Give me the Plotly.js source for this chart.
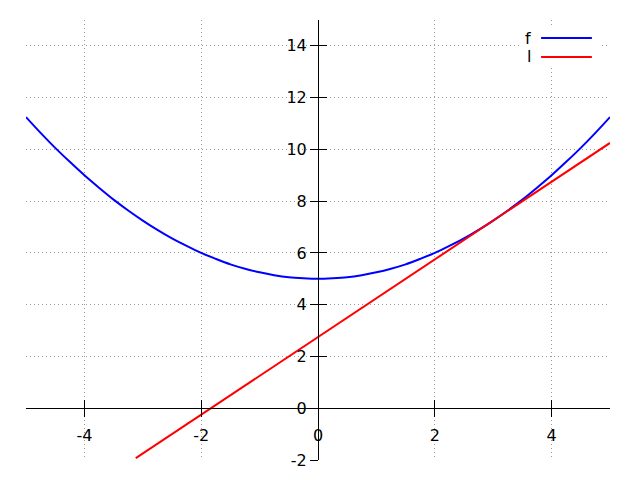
<!DOCTYPE html>
<html>
<head>
<meta charset="utf-8">
<script src="https://cdn.plot.ly/plotly-3.0.1.min.js"></script>
<style>html,body{margin:0;padding:0;background:#fff;}#chart{width:640px;height:480px;}</style>
</head>
<body>
<div id="chart"></div>
<script>
// Curve f sample points
const fX = [-5,-4.75,-4.5,-4.25,-4,-3.75,-3.5,-3.25,-3,-2.75,-2.5,-2.25,-2,-1.75,-1.5,-1.25,-1,-0.75,-0.5,-0.25,0,0.25,0.5,0.75,1,1.25,1.5,1.75,2,2.25,2.5,2.75,3,3.25,3.5,3.75,4,4.25,4.5,4.75,5];
const fY = [11.25,10.64,10.06,9.52,9.0,8.52,8.06,7.64,7.25,6.89,6.56,6.27,6.0,5.77,5.56,5.39,5.25,5.14,5.06,5.02,5.0,5.02,5.06,5.14,5.25,5.39,5.56,5.77,6.0,6.27,6.56,6.89,7.25,7.64,8.06,8.52,9.0,9.52,10.06,10.64,11.25];
// Line l end points
const lX = [-3.12, 5];
const lY = [-1.93, 10.25];
// Axis ranges and tick labels
const xRange = [-5, 5];
const yRange = [-2, 15];
const xTicks = [-4, -2, 0, 2, 4];
const yTicks = [-2, 0, 2, 4, 6, 8, 10, 12, 14];
const seriesNames = ['f', 'l'];
const seriesColors = ['#0000ff', '#ff0000'];

const font = {family: 'DejaVu Sans, sans-serif', size: 16, color: '#000'};
const xPos = (0 - yRange[0]) / (yRange[1] - yRange[0]);
const yPos = (0 - xRange[0]) / (xRange[1] - xRange[0]);

const traces = [
  {x: fX, y: fY, type: 'scatter', mode: 'lines', name: seriesNames[0],
   line: {color: seriesColors[0], width: 2, shape: 'spline', smoothing: 1}, hoverinfo: 'skip'},
  {x: lX, y: lY, type: 'scatter', mode: 'lines', name: seriesNames[1],
   line: {color: seriesColors[1], width: 2}, hoverinfo: 'skip'},
  {x: [xRange[0]], y: [yRange[0]], xaxis: 'x2', yaxis: 'y2', type: 'scatter', mode: 'markers',
   marker: {opacity: 0}, showlegend: false, hoverinfo: 'skip'}
];

const gridCommon = {showgrid: true, gridcolor: '#9a9a9a', griddash: '1px,3px', gridwidth: 1};

const layout = {
  width: 640, height: 480,
  margin: {l: 26, r: 30, t: 20, b: 20, pad: 0},
  paper_bgcolor: '#fff', plot_bgcolor: '#fff',
  showlegend: false,
  font: font,
  xaxis: Object.assign({range: xRange, tickvals: xTicks, ticktext: xTicks.map(String),
    anchor: 'free', position: xPos, showline: true, linecolor: '#000', linewidth: 1,
    ticks: 'outside', ticklen: 8, tickcolor: '#000', tickwidth: 1, ticklabelstandoff: 5,
    zeroline: false, tickfont: font, fixedrange: true}, gridCommon),
  yaxis: Object.assign({range: yRange, tickvals: yTicks, ticktext: yTicks.map(String),
    anchor: 'free', position: yPos, showline: true, linecolor: '#000', linewidth: 1,
    ticks: 'outside', ticklen: 8, tickcolor: '#000', tickwidth: 1,
    zeroline: false, tickfont: font, fixedrange: true}, gridCommon),
  xaxis2: {range: xRange, tickvals: xTicks, overlaying: 'x', anchor: 'free', position: xPos,
    ticks: 'inside', ticklen: 8, tickcolor: '#000', tickwidth: 1, showticklabels: false,
    showgrid: false, zeroline: false, showline: false, fixedrange: true},
  yaxis2: {range: yRange, tickvals: yTicks, overlaying: 'y', anchor: 'free', position: yPos,
    ticks: 'inside', ticklen: 8, tickcolor: '#000', tickwidth: 1, showticklabels: false,
    showgrid: false, zeroline: false, showline: false, fixedrange: true},
  shapes: [
    {type: 'rect', xref: 'paper', yref: 'paper', x0: 0.844, x1: 0.981, y0: 0.893, y1: 0.982,
     fillcolor: '#fff', line: {width: 0}, layer: 'above'},
    {type: 'line', xref: 'paper', yref: 'paper', x0: 0.882, x1: 0.969, y0: 0.959, y1: 0.959,
     line: {color: seriesColors[0], width: 2}, layer: 'above'},
    {type: 'line', xref: 'paper', yref: 'paper', x0: 0.882, x1: 0.969, y0: 0.916, y1: 0.916,
     line: {color: seriesColors[1], width: 2}, layer: 'above'}
  ],
  annotations: [
    {text: seriesNames[0], xref: 'paper', yref: 'paper', x: 0.868, y: 0.959, xanchor: 'right', yanchor: 'middle', showarrow: false, font: font},
    {text: seriesNames[1], xref: 'paper', yref: 'paper', x: 0.868, y: 0.916, xanchor: 'right', yanchor: 'middle', showarrow: false, font: font}
  ]
};

Plotly.newPlot('chart', traces, layout, {displayModeBar: false, staticPlot: true});
</script>
</body>
</html>
